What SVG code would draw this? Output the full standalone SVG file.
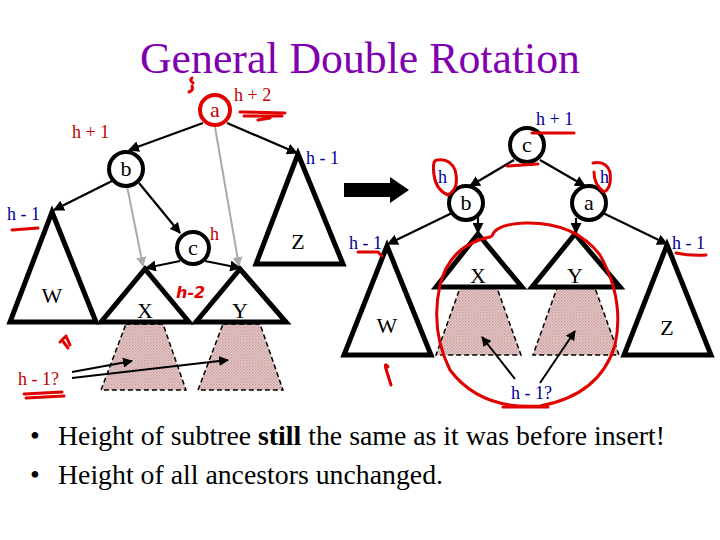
<svg xmlns="http://www.w3.org/2000/svg" width="720" height="540" viewBox="0 0 720 540">
<style>
.t{font-family:"Liberation Serif","Times New Roman",serif}
.lbl{font-family:"Liberation Serif","Times New Roman",serif;font-size:18px}
.dr{fill:#c00000}
.bl{fill:#000099}
.node{fill:#fff;stroke:#000;stroke-width:4}
.tri{fill:#fff;stroke:#000;stroke-width:5;stroke-linejoin:miter}
.trap{fill:url(#hatch);stroke:#000;stroke-width:1.5;stroke-dasharray:5 3}
.edge{stroke:#000;stroke-width:2.2;fill:none}
.gray{stroke:#aaa;stroke-width:2;fill:none}
.red{stroke:#e00000;stroke-width:3;fill:none;stroke-linecap:round;stroke-linejoin:round}
.ptr{stroke:#000;stroke-width:2;fill:none}
.nt{font-family:"Liberation Serif","Times New Roman",serif;font-size:22px;text-anchor:middle}
.bul{font-family:"Liberation Serif","Times New Roman",serif;font-size:28px;fill:#000}
</style>
<defs>
<pattern id="hatch" width="3" height="3" patternUnits="userSpaceOnUse">
<rect width="3" height="3" fill="#e6cccc"/>
<rect width="1.5" height="1.5" fill="#c89a9a"/>
<rect x="1.5" y="1.5" width="1.5" height="1.5" fill="#d2aaaa"/>
</pattern>
<marker id="ah" viewBox="0 0 10 10" refX="9" refY="5" markerWidth="5" markerHeight="5" orient="auto-start-reverse">
<path d="M0,0 L10,5 L0,10 z" fill="#000"/>
</marker>
<marker id="ahg" viewBox="0 0 10 10" refX="9" refY="5" markerWidth="5" markerHeight="5" orient="auto">
<path d="M0,0 L10,5 L0,10 z" fill="#aaa"/>
</marker>
</defs>
<rect width="720" height="540" fill="#fff"/>

<text x="360" y="73" font-family="'Liberation Serif','Times New Roman',serif" font-size="45" fill="#8000b0" text-anchor="middle" textLength="440" lengthAdjust="spacingAndGlyphs">General Double Rotation</text>

<!-- shaded subtrees (drawn first) -->
<g id="shadeL">
<polygon class="trap" points="126,324 163,324 186,390 101,390"/>
<polygon class="trap" points="223,324 260,324 283,390 198,390"/>
</g>
<g id="shadeR">
<polygon class="trap" points="460,288 497,288 521,355 436,355"/>
<polygon class="trap" points="557,288 595,288 619,355 533,355"/>
</g>

<!-- connectors -->
<g id="connectors">
<line class="gray" x1="127" y1="186" x2="143" y2="266" marker-end="url(#ahg)"/>
<line class="gray" x1="215" y1="127" x2="239" y2="266" marker-end="url(#ahg)"/>
<line class="edge" x1="203" y1="123" x2="129" y2="150" marker-end="url(#ah)"/>
<line class="edge" x1="227" y1="123" x2="297" y2="153" marker-end="url(#ah)"/>
<line class="edge" x1="112" y1="181" x2="54" y2="210" marker-end="url(#ah)"/>
<line class="edge" x1="139" y1="183" x2="180" y2="233" marker-end="url(#ah)"/>
<line class="edge" x1="180" y1="261" x2="146" y2="268" marker-end="url(#ah)"/>
<line class="edge" x1="205" y1="261" x2="240" y2="268" marker-end="url(#ah)"/>
<line class="ptr" x1="72" y1="372" x2="132" y2="361" marker-end="url(#ah)"/>
<line class="ptr" x1="72" y1="378" x2="228" y2="360" marker-end="url(#ah)"/>

<line class="edge" x1="514" y1="160" x2="470" y2="186" marker-end="url(#ah)"/>
<line class="edge" x1="540" y1="160" x2="585" y2="186" marker-end="url(#ah)"/>
<line class="edge" x1="452" y1="213" x2="388" y2="244" marker-end="url(#ah)"/>
<line class="edge" x1="478" y1="216" x2="478" y2="233" marker-end="url(#ah)"/>
<line class="edge" x1="576" y1="218" x2="576" y2="233" marker-end="url(#ah)"/>
<line class="edge" x1="603" y1="213" x2="667" y2="244" marker-end="url(#ah)"/>
<line class="ptr" x1="515" y1="379" x2="482" y2="337" marker-end="url(#ah)"/>
<line class="ptr" x1="540" y1="383" x2="575" y2="331" marker-end="url(#ah)"/>

<path d="M344,183 H390 V177 L409,190 L390,203 V197 H344 Z" fill="#000"/>
</g>

<!-- left tree nodes -->
<g id="a1"><circle cx="215" cy="110" r="15" fill="#fff" stroke="#e00000" stroke-width="4"/><text class="nt dr" x="215" y="117">a</text></g>
<g id="b1"><circle class="node" cx="126" cy="169" r="17"/><text class="nt" x="126" y="176">b</text></g>
<g id="c1"><circle class="node" cx="193" cy="248" r="16"/><text class="nt" x="193" y="255">c</text></g>
<g id="Z1"><polygon class="tri" points="298,154 343,264 256,264"/><text class="nt" x="298" y="249">Z</text></g>
<g id="W1"><polygon class="tri" points="52,212 96,322 10,322"/><text class="nt" x="52" y="303">W</text></g>
<g id="X1"><polygon class="tri" points="145,269 189,322 101,322"/><text class="nt" x="145" y="318">X</text></g>
<g id="Y1"><polygon class="tri" points="240,269 286,322 196,322"/><text class="nt" x="240" y="318">Y</text></g>

<!-- right tree nodes -->
<g id="c2"><circle class="node" cx="527" cy="145" r="17"/><text class="nt" x="527" y="152">c</text></g>
<g id="b2"><circle class="node" cx="466" cy="203" r="17"/><text class="nt" x="466" y="210">b</text></g>
<g id="a2"><circle class="node" cx="589" cy="203" r="17"/><text class="nt" x="589" y="210">a</text></g>
<g id="W2"><polygon class="tri" points="387,246 431,355 344,355"/><text class="nt" x="387" y="333">W</text></g>
<g id="X2"><polygon class="tri" points="478,234 522,287 436,287"/><text class="nt" x="478" y="283">X</text></g>
<g id="Y2"><polygon class="tri" points="575,234 620,287 532,287"/><text class="nt" x="575" y="283">Y</text></g>
<g id="Z2"><polygon class="tri" points="667,245 711,355 624,355"/><text class="nt" x="667" y="335">Z</text></g>

<!-- labels -->
<g id="labels">
<text class="lbl dr" x="234" y="101">h + 2</text>
<text class="lbl dr" x="72" y="138">h + 1</text>
<text class="lbl bl" x="306" y="164">h - 1</text>
<text class="lbl bl" x="7" y="220">h - 1</text>
<text class="lbl dr" x="210" y="240">h</text>
<text class="lbl dr" x="18" y="385">h - 1?</text>
<text x="176" y="298" font-family="'DejaVu Sans',sans-serif" font-size="16" font-weight="bold" fill="#e00000" font-style="italic">h-2</text>

<text class="lbl bl" x="536" y="125">h + 1</text>
<text class="lbl bl" x="438" y="183">h</text>
<text class="lbl bl" x="600" y="183">h</text>
<text class="lbl bl" x="349" y="249">h - 1</text>
<text class="lbl bl" x="672" y="249">h - 1</text>
<text class="lbl bl" x="511" y="399">h - 1?</text>
</g>

<!-- red annotations -->
<g id="scribbles">
<path class="red" d="M240,112 L285,113 M244,116 L282,116 M270,118 L258,120"/>
<path class="red" d="M193,83 Q189,80 192,78 M192,86 Q194,90 189,92"/>
<path class="red" d="M12,230 L38,228"/>
<path class="red" d="M66,336 L60,342 M66,336 L70,345 M62,340 L68,348"/>
<path class="red" d="M24,394 L62,392 M26,398 L64,396"/>
<path class="red" stroke-width="2" d="M358,252 L378,252 L382,256"/>
<path class="red" stroke-width="2" d="M676,253 Q690,256 706,255"/>
<path class="red" stroke-width="2" d="M391,385 L386,369 Q384,362 388,367"/>
<path class="red" stroke-width="2" d="M532,133 L574,133"/>
<path class="red" d="M507,166 L538,164"/>
<path class="red" stroke-width="2" d="M437,160 Q450,158 455,170 Q460,188 448,195 Q436,190 434,175 Q432,160 437,160"/>
<path class="red" stroke-width="2" d="M593,163 Q606,160 610,172 Q612,188 604,192 Q594,185 594,172"/>
<path class="red" stroke-width="2" d="M492,236 Q496,224 525,223 Q575,222 600,255 Q625,300 615,345 Q600,395 540,406 Q480,410 450,370 Q430,330 440,285 Q450,245 490,237"/>
<path class="red" d="M503,407 L548,407"/>
</g>

<!-- bullets -->
<g id="bullets">
<text class="bul" x="30" y="445" font-size="24">•</text>
<text class="bul" x="58" y="445" textLength="607" lengthAdjust="spacingAndGlyphs">Height of subtree <tspan font-weight="bold">still</tspan> the same as it was before insert!</text>
<text class="bul" x="30" y="484" font-size="24">•</text>
<text class="bul" x="58" y="484" textLength="385" lengthAdjust="spacingAndGlyphs">Height of all ancestors unchanged.</text>
</g>
</svg>
